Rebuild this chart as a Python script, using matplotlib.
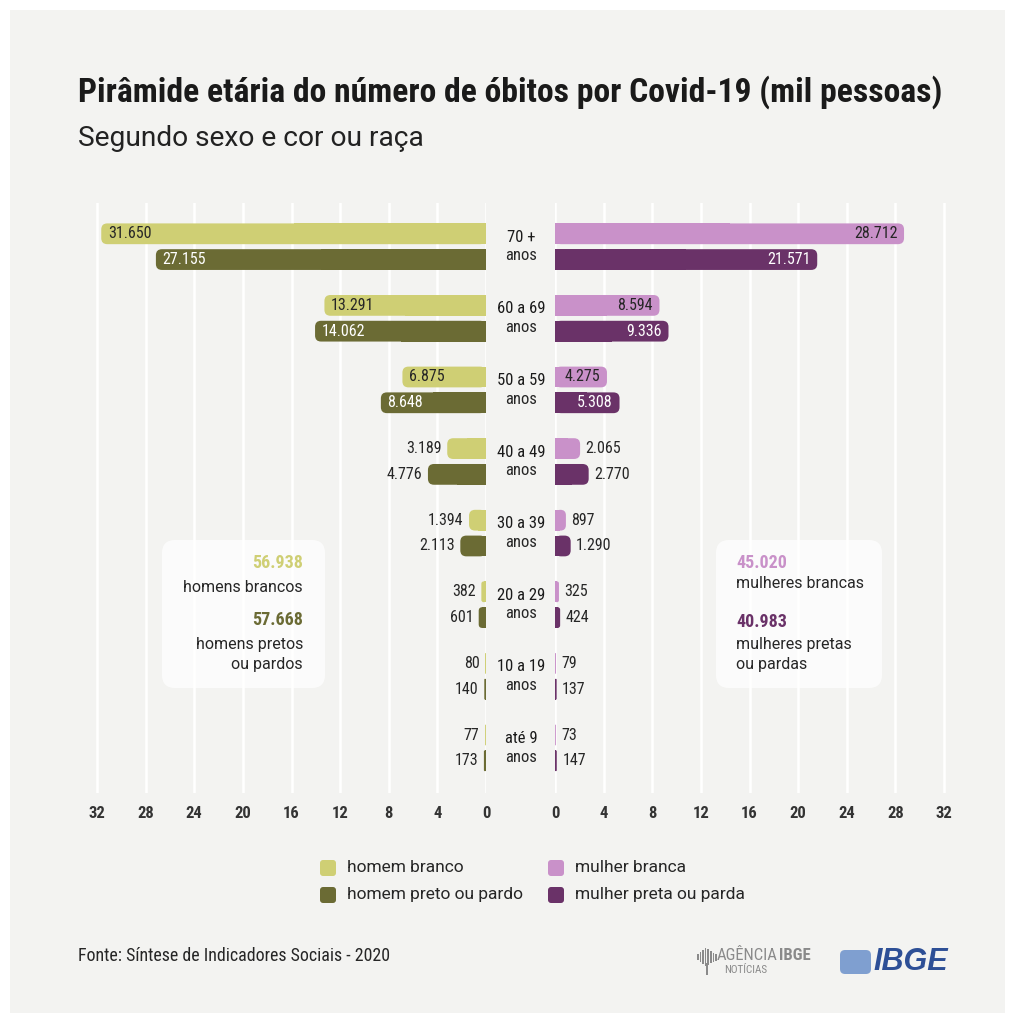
# %%
import numpy as np
import matplotlib.pyplot as plt
import matplotlib.font_manager as fm
from matplotlib.patches import FancyBboxPatch, Rectangle

installed = {f.name for f in fm.fontManager.ttflist}
narrow = next((n for n in ["Roboto Condensed", "Liberation Sans Narrow", "Open Sans Condensed"]
               if n in installed), "Liberation Sans")
plain = "Roboto" if "Roboto" in installed else "DejaVu Sans"

W, H = 1016, 1023
bg = "#f3f3f1"
txt = "#262626"

# %%
age_groups = ["70 +", "60 a 69", "50 a 59", "40 a 49", "30 a 39", "20 a 29", "10 a 19", "até 9"]
homem_branco = [31650, 13291, 6875, 3189, 1394, 382, 80, 77]
homem_preto = [27155, 14062, 8648, 4776, 2113, 601, 140, 173]
mulher_branca = [28712, 8594, 4275, 2065, 897, 325, 79, 73]
mulher_preta = [21571, 9336, 5308, 2770, 1290, 424, 137, 147]

series_labels = ["homem branco", "homem preto ou pardo", "mulher branca", "mulher preta ou parda"]
colors = ["#cfcf74", "#6b6b34", "#c991c9", "#6a3268"]
label_colors = [txt, "white", txt, "white"]

ticks = list(range(0, 33, 4))


def fx(px):
    return px / W


def fy(py):
    return 1 - py / H


def fmt(v):
    return f"{v:,}".replace(",", ".")


# %%
fig = plt.figure(figsize=(W / 100, H / 100), dpi=100, facecolor="white")
renderer = fig.canvas.get_renderer()


def fit(t, width_px):
    w = t.get_window_extent(renderer).width
    t.set_fontsize(t.get_fontsize() * width_px / w)
    return t


fig.patches.append(
    Rectangle((fx(10), fy(1013)), fx(1005) - fx(10), fy(10) - fy(1013),
              transform=fig.transFigure, fc=bg, ec="none", zorder=-10)
)

ppu = 389 / 32  # pixels per thousand
xmax = 416 / ppu
ax_l = fig.add_axes([fx(70), fy(793), fx(486) - fx(70), fy(203) - fy(793)])
ax_r = fig.add_axes([fx(555), fy(793), fx(971) - fx(555), fy(203) - fy(793)])

ypos = -np.arange(len(age_groups))
bh = 0.29
off = 0.18
asp = (6 / 71.6) / 0.5


def rounded_bar(ax, y, v, color):
    r = min(0.5, v / 2)
    ax.add_patch(FancyBboxPatch((0, y - bh / 2), v, bh,
                                boxstyle=f"round,pad=0,rounding_size={r}",
                                mutation_aspect=asp, fc=color, ec="none", zorder=3))
    ax.add_patch(Rectangle((0, y - bh / 2), v / 2, bh, fc=color, ec="none", zorder=3))


for ax, lim in [(ax_l, (xmax, 0)), (ax_r, (0, xmax))]:
    ax.set_xlim(*lim)
    ax.set_ylim(-7.63, 0.61)
    ax.set_facecolor("none")
    for s in ax.spines.values():
        s.set_visible(False)
    ax.set_yticks([])
    ax.set_xticks(ticks)
    ax.set_xticklabels([str(t) for t in ticks], fontfamily=narrow, fontweight="bold",
                       fontsize=12, color="#333333")
    ax.tick_params(axis="x", length=0, pad=9)
    ax.grid(axis="x", color="white", linewidth=1.8, zorder=0)
    ax.set_axisbelow(True)

panels = [
    (ax_l, homem_branco, off, 0, 5),
    (ax_l, homem_preto, -off, 1, 5),
    (ax_r, mulher_branca, off, 2, 4),
    (ax_r, mulher_preta, -off, 3, 4),
]

for ax, vals, dy, k, limit in panels:
    inverted = ax is ax_l
    for y, v in zip(ypos, vals):
        x = v / 1000
        rounded_bar(ax, y + dy, x, colors[k])
        if x >= limit:
            ax.text(x - 0.55, y + dy, fmt(v), ha="left" if inverted else "right", va="center",
                    fontfamily=narrow, fontsize=11.5, color=label_colors[k], zorder=4)
        else:
            ax.text(x + 0.45, y + dy, fmt(v), ha="right" if inverted else "left", va="center",
                    fontfamily=narrow, fontsize=11.5, color=txt, zorder=4)

for y, g in zip(ypos, age_groups):
    ax_r.text(-2.8, y + 0.13, g, ha="center", va="center", fontfamily=narrow,
              fontsize=12, color="#1a1a1a")
    ax_r.text(-2.8, y - 0.13, "anos", ha="center", va="center", fontfamily=narrow,
              fontsize=12, color=txt)

# %% summary boxes
for x0, x1 in [(162, 325), (716, 882)]:
    fig.patches.append(
        FancyBboxPatch((fx(x0), fy(688)), fx(x1) - fx(x0), fy(540) - fy(688),
                       boxstyle="round,pad=0,rounding_size=0.013", mutation_aspect=W / H,
                       transform=fig.transFigure, fc="white", ec="none", alpha=0.75, zorder=5)
    )

totals = [sum(homem_branco), sum(homem_preto), sum(mulher_branca), sum(mulher_preta)]
box_texts = [
    (fx(303), "right", [(563, fmt(totals[0]), colors[0], "bold"),
                        (588, "homens brancos", txt, "normal"),
                        (620, fmt(totals[1]), colors[1], "bold"),
                        (644, "homens pretos", txt, "normal"),
                        (664, "ou pardos", txt, "normal")]),
    (fx(736), "left", [(563, fmt(totals[2]), colors[2], "bold"),
                       (584, "mulheres brancas", txt, "normal"),
                       (622, fmt(totals[3]), colors[3], "bold"),
                       (645, "mulheres pretas", txt, "normal"),
                       (664, "ou pardas", txt, "normal")]),
]
for x, ha, lines in box_texts:
    for py, s, c, w in lines:
        fam = narrow if w == "bold" else plain
        size = 13 if w == "bold" else 11.5
        fig.text(x, fy(py), s, ha=ha, va="center", color=c, fontweight=w,
                 fontfamily=fam, fontsize=size, zorder=6)

# %% legend
leg_pos = [(320, 868), (320, 895), (548, 868), (548, 895)]
for (px, py), lab, c in zip(leg_pos, series_labels, colors):
    fig.patches.append(
        FancyBboxPatch((fx(px), fy(py + 8)), fx(16), 16 / H,
                       boxstyle="round,pad=0,rounding_size=0.003", mutation_aspect=W / H,
                       transform=fig.transFigure, fc=c, ec="none")
    )
    fig.text(fx(px + 27), fy(py), lab, ha="left", va="center", fontfamily=plain,
             fontsize=12.5, color=txt)

# %% titles and footer
title = fig.text(fx(78), fy(92), "Pirâmide etária do número de óbitos por Covid-19 (mil pessoas)",
                 ha="left", va="center", fontfamily=narrow, fontweight="bold", fontsize=24,
                 color="#1a1a1a")
fit(title, 866)
sub = fig.text(fx(78), fy(139), "Segundo sexo e cor ou raça", ha="left", va="center",
               fontfamily=plain, fontsize=19, color="#222222")
fit(sub, 346)
foot = fig.text(fx(78), fy(956), "Fonte: Síntese de Indicadores Sociais - 2020", ha="left",
                va="center", fontfamily=narrow, fontsize=12, color=txt)
fit(foot, 312)

# agency logo, drawn as text
for i, hgt in enumerate([6, 10, 14, 18, 16, 12, 9, 7]):
    fig.patches.append(
        Rectangle((fx(697 + i * 2.6), fy(957 + hgt / 2)), fx(1.6), hgt / H,
                  transform=fig.transFigure, fc="#8a8a8a", ec="none")
    )
fig.patches.append(
    Rectangle((fx(706), fy(975)), fx(2), 12 / H, transform=fig.transFigure, fc="#8a8a8a", ec="none")
)
ag = fig.text(fx(717), fy(956), "AGÊNCIA", ha="left", va="center", fontfamily=narrow,
              fontsize=12, color="#8a8a8a")
ag_end = ag.get_window_extent(renderer).x1
fig.text(ag_end / W + 0.001, fy(956), "IBGE", ha="left", va="center", fontfamily=narrow,
         fontweight="bold", fontsize=12, color="#8a8a8a")
fig.text(fx(724), fy(970), "NOTÍCIAS", ha="left", va="center", fontfamily=narrow,
         fontsize=8, color="#8a8a8a")
fig.patches.append(
    FancyBboxPatch((fx(840), fy(974)), fx(31), 24 / H,
                   boxstyle="round,pad=0,rounding_size=0.005", mutation_aspect=W / H,
                   transform=fig.transFigure, fc="#7f9fd0", ec="none")
)
fig.text(fx(873), fy(962), "IBGE", ha="left", va="center", fontfamily="Liberation Sans",
         fontweight="bold", fontstyle="italic", fontsize=22, color="#2d4f96")

plt.savefig("out.png", dpi=100, facecolor=fig.get_facecolor())
